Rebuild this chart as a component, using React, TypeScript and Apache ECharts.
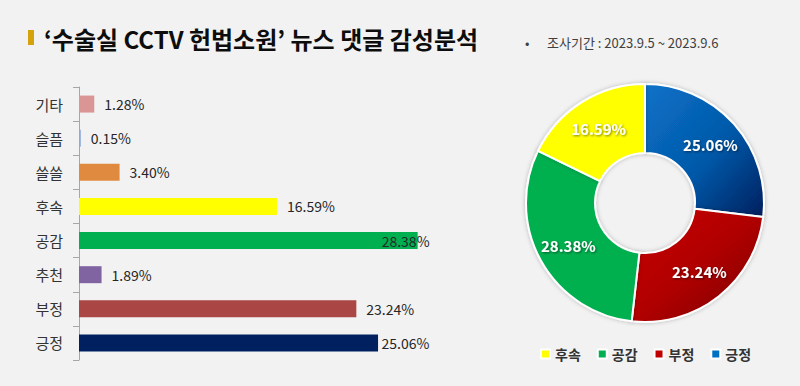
import React, { useEffect, useRef } from "react";
import * as echarts from "echarts";

const categories = ["기타", "슬픔", "쓸쓸", "후속", "공감", "추천", "부정", "긍정"];
const values = [1.28, 0.15, 3.4, 16.59, 28.38, 1.89, 23.24, 25.06];
const barColors = ["#d99694", "#8ea9db", "#e08a3f", "#ffff00", "#00b050", "#8064a2", "#aa4643", "#002060"];

const pieNames = ["긍정", "부정", "공감", "후속"];
const pieValues = [25.06, 23.24, 28.38, 16.59];
const legendOrder = ["후속", "공감", "부정", "긍정"];

const titleText = "‘수술실 CCTV 헌법소원’ 뉴스 댓글 감성분석";
const periodText = "조사기간 : 2023.9.5 ~ 2023.9.6";

const FONT = "'Noto Sans CJK KR', 'Noto Sans', sans-serif";

const pieStyles: Record<string, any> = {
  긍정: new echarts.graphic.LinearGradient(0, 0, 1, 1, [
    { offset: 0, color: "#0a72c8" },
    { offset: 0.55, color: "#0358a8" },
    { offset: 1, color: "#001f5e" },
  ]),
  부정: new echarts.graphic.LinearGradient(0, 0, 1, 1, [
    { offset: 0, color: "#c80000" },
    { offset: 0.5, color: "#b00000" },
    { offset: 1, color: "#780000" },
  ]),
  공감: "#00b050",
  후속: "#ffff00",
};
const legendColors: Record<string, string> = {
  후속: "#ffff00",
  공감: "#00b050",
  부정: "#c00000",
  긍정: "#0070c0",
};
const labelDistance: Record<string, number> = { 공감: -36, 긍정: 3.5 };

export default function App() {
  const ref = useRef<HTMLDivElement>(null);
  useEffect(() => {
    document.body.style.margin = "0";
    document.body.style.background = "#f2f2f2";
    const chart = echarts.init(ref.current!, null, { renderer: "svg" });
    const option: any = {
      animation: false,
      backgroundColor: "#f2f2f2",
      textStyle: { fontFamily: FONT },
      graphic: [
        { type: "rect", shape: { x: 28, y: 30, width: 6, height: 15 }, style: { fill: "#d4a20c" } },
        {
          type: "text",
          x: 44,
          y: 38,
          style: {
            text: titleText,
            font: `bold 24px ${FONT}`,
            fill: "#0d0d0d",
            verticalAlign: "middle",
          },
        },
        {
          type: "text",
          x: 525,
          y: 42,
          style: { text: "•", font: `13px ${FONT}`, fill: "#404040", verticalAlign: "middle" },
        },
        {
          type: "text",
          x: 547,
          y: 42,
          style: { text: periodText, font: `13px ${FONT}`, fill: "#404040", verticalAlign: "middle" },
        },
      ],
      grid: { left: 79, top: 87, width: 358, height: 273, containLabel: false },
      xAxis: { type: "value", min: 0, max: 30, show: false },
      yAxis: {
        type: "category",
        inverse: true,
        data: categories,
        axisLine: { show: true, lineStyle: { color: "#a6a6a6", width: 1 } },
        axisTick: { show: true, length: 6, lineStyle: { color: "#a6a6a6" } },
        axisLabel: { color: "#333333", fontSize: 15, margin: 16, fontFamily: FONT },
        splitLine: { show: false },
      },
      legend: {
        data: legendOrder.map((n) => ({ name: n, itemStyle: { color: legendColors[n] } })),
        left: 540,
        top: 347,
        padding: 0,
        icon: "rect",
        itemWidth: 9,
        itemHeight: 9,
        itemGap: 16,
        textStyle: { fontSize: 14, fontWeight: "bold", color: "#333333", fontFamily: FONT },
        selectedMode: false,
      },
      series: [
        {
          type: "bar",
          name: "bar",
          barWidth: 17,
          data: values.map((v, i) => ({
            value: v,
            itemStyle: { color: barColors[i] },
            label: labelDistance[categories[i]] !== undefined ? { distance: labelDistance[categories[i]] } : undefined,
          })),
          label: {
            show: true,
            position: "right",
            distance: 10,
            fontSize: 14,
            color: "#262626",
            fontFamily: FONT,
            formatter: (p: any) => p.value.toFixed(2) + "%",
          },
        },
        {
          type: "pie",
          name: "pie",
          center: [645, 203],
          radius: [50, 119],
          startAngle: 90,
          clockwise: true,
          label: {
            show: true,
            position: "inside",
            color: "#ffffff",
            fontSize: 15,
            fontWeight: "bold",
            fontFamily: FONT,
            textShadowColor: "rgba(0,0,0,0.5)",
            textShadowBlur: 2,
            textShadowOffsetX: 1,
            textShadowOffsetY: 1,
            formatter: (p: any) => p.value.toFixed(2) + "%",
          },
          labelLine: { show: false },
          itemStyle: {
            borderColor: "#ffffff",
            borderWidth: 2,
            shadowColor: "rgba(0,0,0,0.25)",
            shadowBlur: 4,
          },
          emphasis: { disabled: true },
          data: pieNames.map((n, i) => ({ name: n, value: pieValues[i], itemStyle: { color: pieStyles[n] } })),
        },
      ],
    };
    chart.setOption(option);
    return () => chart.dispose();
  }, []);
  return <div ref={ref} style={{ width: 800, height: 386 }} />;
}
